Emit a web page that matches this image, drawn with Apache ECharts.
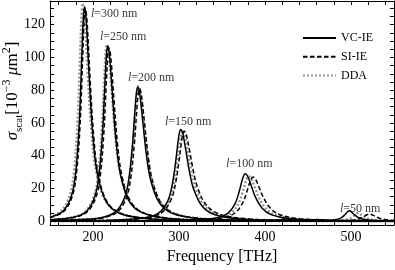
<!DOCTYPE html>
<html>
<head>
<meta charset="utf-8">
<script src="https://cdn.jsdelivr.net/npm/echarts@6/dist/echarts.min.js"></script>
<style>
html,body{margin:0;padding:0;background:#fff;}
#c{width:395px;height:270px;}
</style>
</head>
<body>
<div id="c"></div>
<script>
// ---- data (frequency THz, sigma_scat 10^-3 um^2) ----
const seriesNames = ['VC-IE', 'SI-IE', 'DDA'];
const rodLengths = [300, 250, 200, 150, 100, 50];

const vc300 = [[150,2.4],[165,6.1],[175,15.5],[180,30.4],[184,59.8],[187,101],[188.5,121.9],[190,131],[191.5,126.6],[193,114.8],[196,83.8],[200,51.1],[205,29.0],[215,12.2],[230,5.0],[260,1.7],[310,0.58],[390,0.25],[412,0.35],[425,1.5],[438,0.35],[550,0.1]];
const vc250 = [[150,0.85],[177,2.4],[192,5.8],[202,14.8],[207,28.3],[211,53.5],[214,85.6],[215.5,100.7],[217,107],[218.5,104.1],[220,96.3],[223,74.1],[227,47.9],[232,28.3],[242,12.3],[257,5.2],[287,1.7],[337,0.6],[421,0.22],[447,0.2],[461,1.0],[475,0.2],[550,0.08]];
const vc200 = [[150,0.38],[192,1.1],[212,2.4],[227,6.0],[237,14.7],[242,27.0],[246,47.3],[249,69.3],[250.5,78.4],[252,82],[253.5,80.2],[255,75.2],[258,60.3],[262,41.0],[267,25.2],[277,11.3],[292,4.8],[322,1.6],[372,0.57],[452,0.2],[550,0.09]];
const vc150 = [[150,0.15],[222,0.55],[262,2.2],[277,5.2],[287,12.4],[292,21.9],[296,35.8],[299,49.1],[300.5,54.1],[302,56],[303.5,55.0],[305,52.1],[308,43.2],[312,30.7],[317,19.6],[327,9.1],[342,3.9],[372,1.35],[422,0.47],[550,0.11]];
const vc100 = [[150,0.05],[277,0.23],[327,0.9],[347,2.4],[357,4.9],[365,10.4],[370,18.1],[374,26.1],[377,29],[380,27.3],[384,21.6],[389,14.5],[397,7.7],[407,4.0],[427,1.6],[467,0.5],[550,0.14]];
const vc50 = [[150,0.01],[400,0.03],[450,0.11],[470,0.32],[480,0.73],[488,1.87],[493,3.96],[496,5.75],[498,6.3],[500,5.88],[503,4.36],[510,1.77],[520,0.66],[535,0.25],[550,0.13]];

const si300 = [[150,2.3],[166,5.9],[176,15.4],[181,30.2],[185,59.3],[188,100],[189.5,121],[191,130],[192.5,125.6],[194,113.9],[197,83.2],[201,50.7],[206,28.8],[216,12.1],[231,5.0],[261,1.7],[311,0.58],[391,0.25],[413,0.35],[426,1.4],[439,0.35],[550,0.1]];
const si250 = [[150,0.8],[178.5,2.3],[193.5,5.8],[203.5,14.7],[208.5,28.0],[212.5,53.0],[215.5,84.7],[217,99.7],[218.5,106],[220,103.1],[221.5,95.3],[224.5,73.4],[228.5,47.4],[233.5,28.0],[243.5,12.2],[258.5,5.1],[288.5,1.7],[338.5,0.6],[422,0.22],[448,0.2],[463,0.9],[478,0.2],[550,0.08]];
const si200 = [[150,0.37],[194,1.09],[214,2.41],[229,5.9],[239,14.5],[244,26.7],[248,46.7],[251,68.5],[252.5,77.5],[254,81],[255.5,79.2],[257,74.3],[260,59.6],[264,40.5],[269,24.9],[279,11.2],[294,4.76],[324,1.62],[374,0.56],[454,0.2],[550,0.09]];
const si150 = [[150,0.16],[226,0.61],[266,2.38],[281,5.7],[291,13.4],[296,23.1],[300,36.7],[303,48.9],[304.5,53.3],[306,55],[307.5,54.2],[309,51.8],[312,44],[316,32.5],[321,21.5],[331,10.3],[346,4.55],[376,1.57],[426,0.54],[550,0.13]];
const si100 = [[150,0.05],[286,0.27],[336,1.04],[356,2.7],[366,5.4],[374,11.1],[379,18.1],[383,24.8],[386,27],[389,25.6],[393,20.9],[398,14.6],[406,8.0],[416,4.27],[436,1.71],[476,0.55],[550,0.17]];
const si50 = [[150,0.01],[420,0.03],[470,0.11],[490,0.27],[500,0.56],[508,1.21],[515,2.82],[518.5,3.9],[521,4.4],[523.5,4.1],[526,3.52],[533,1.8],[541,0.88],[550,0.47]];

const dd300 = [[150,2.7],[163,6.1],[173,15.8],[178,30.9],[182,60.7],[185,102.5],[186.5,123.8],[188,133],[189.5,129],[191,118.3],[194,88.8],[198,55.8],[203,32.3],[213,13.8],[228,5.75],[258,1.93],[308,0.66],[388,0.24],[550,0.07]];
const dd250 = [[150,0.89],[176,2.38],[191,5.88],[201,14.9],[206,28.6],[210,54],[213,86.4],[214.5,101.6],[216,108],[217.5,105.4],[219,98.2],[222,77.2],[226,51.2],[231,30.9],[241,13.6],[256,5.77],[286,1.95],[336,0.67],[420,0.23],[550,0.09]];
const dd200 = [[150,0.38],[192.5,1.11],[212.5,2.45],[227.5,6.0],[237.5,14.8],[242.5,27.1],[246.5,47.6],[249.5,69.7],[251,78.9],[252.5,82.5],[254,80.9],[255.5,76.3],[258.5,62.2],[262.5,43.3],[267.5,27.1],[277.5,12.4],[292.5,5.32],[322.5,1.82],[372.5,0.63],[452.5,0.23],[550,0.1]];
const dd150 = [[150,0.16],[224,0.58],[264,2.24],[279,5.39],[289,12.8],[294,22.3],[298,36.2],[301,48.9],[302.5,53.7],[304,55.5],[305.5,54.6],[307,52],[310,43.6],[314,31.6],[319,20.5],[329,9.69],[344,4.24],[374,1.46],[424,0.5],[550,0.12]];
const dd100 = [[150,0.05],[281,0.25],[331,0.96],[351,2.51],[361,5.06],[369,10.6],[374,17.8],[378,25],[381,27.5],[384,26],[388,20.9],[393,14.3],[401,7.72],[411,4.07],[431,1.62],[471,0.52],[550,0.15]];
const dd50 = [[150,0.01],[400,0.02],[460,0.1],[480,0.27],[490,0.63],[498,1.58],[503,3.18],[506,4.44],[508,4.8],[510,4.52],[513,3.45],[520,1.48],[530,0.56],[550,0.17]];

// peak annotation anchor points (frequency, sigma)
const labelFreq = [197.7, 208, 240.7, 283.7, 354.7, 487.2];
const labelSigma = [126.7, 112.6, 87.3, 60.7, 35, 7.4];

// axis ticks / labels
const xTickLabels = [200, 300, 400, 500];
const xTicks = [160,180,200,220,240,260,280,300,320,340,360,380,400,420,440,460,480,500,520,540];
const yTickLabels = [0, 20, 40, 60, 80, 100, 120];
const yTicks = [0,5,10,15,20,25,30,35,40,45,50,55,60,65,70,75,80,85,90,95,100,105,110,115,120,125,130];

// ---- chart ----
const FONT = 'Liberation Serif';
const curves = {
  'VC-IE': [vc300, vc250, vc200, vc150, vc100, vc50],
  'SI-IE': [si300, si250, si200, si150, si100, si50],
  'DDA':   [dd300, dd250, dd200, dd150, dd100, dd50]
};
const lineStyles = {
  'VC-IE': {color: '#000', width: 1.5, type: 'solid'},
  'SI-IE': {color: '#000', width: 1.5, type: [4.5, 2.5]},
  'DDA':   {color: '#8f9898', width: 2.4, type: [2, 2]}
};
const drawOrder = ['DDA', 'SI-IE', 'VC-IE'];
const z = {'DDA': 2, 'SI-IE': 3, 'VC-IE': 4};

const series = [];
drawOrder.forEach(name => {
  curves[name].forEach(arr => {
    series.push({
      type: 'line', name: name, data: arr, smooth: 0.35,
      showSymbol: false, symbol: 'none', z: z[name],
      lineStyle: lineStyles[name], itemStyle: {color: lineStyles[name].color},
      emphasis: {disabled: true}
    });
  });
});
series.push({
  type: 'scatter', name: 'peakLabels', symbolSize: 0, silent: true, z: 6,
  data: rodLengths.map((l, i) => ({value: [labelFreq[i], labelSigma[i]], name: String(l)})),
  label: {
    show: true, position: 'right', distance: 0,
    formatter: p => '{i|l}{n|=' + p.name + ' nm}',
    rich: {
      i: {fontFamily: FONT, fontStyle: 'italic', fontSize: 12, color: '#000'},
      n: {fontFamily: FONT, fontSize: 12, color: '#000'}
    }
  }
});

const axisLineStyle = {show: true, onZero: false, lineStyle: {color: '#000', width: 1}};
const xBase = {type: 'value', min: 150, max: 550, splitLine: {show: false}, axisLine: axisLineStyle,
  axisTick: {show: true, inside: true, length: 4, customValues: xTicks, lineStyle: {color: '#000'}}};
const yBase = {type: 'value', min: -2.4, max: 134.5, splitLine: {show: false}, axisLine: axisLineStyle,
  axisTick: {show: true, inside: true, length: 4, customValues: yTicks, lineStyle: {color: '#000'}}};

const option = {
  animation: false,
  backgroundColor: '#fff',
  grid: {left: 50, right: 1, top: 1, bottom: 42, containLabel: false},
  xAxis: [
    Object.assign({}, xBase, {position: 'bottom',
      axisLabel: {customValues: xTickLabels, fontFamily: FONT, fontSize: 14, color: '#000', margin: 5},
      name: 'Frequency [THz]', nameLocation: 'middle', nameGap: 22,
      nameTextStyle: {fontFamily: FONT, fontSize: 16, color: '#000'}}),
    Object.assign({}, xBase, {position: 'top', axisLabel: {show: false}})
  ],
  yAxis: [
    Object.assign({}, yBase, {position: 'left',
      axisLabel: {customValues: yTickLabels, fontFamily: FONT, fontSize: 14, color: '#000', margin: 5}}),
    Object.assign({}, yBase, {position: 'right', axisLabel: {show: false}})
  ],
  legend: {
    data: seriesNames, orient: 'vertical', left: 297, top: 26,
    itemWidth: 33, itemHeight: 14, itemGap: 4.7,
    itemStyle: {opacity: 0, borderWidth: 0},
    textStyle: {fontFamily: FONT, fontSize: 12, color: '#000', lineHeight: 14},
    selectedMode: false
  },
  graphic: [{
    type: 'text', x: 13, y: 91, rotation: Math.PI / 2, silent: true,
    style: {
      text: '{s|σ}{b|scat}{n|[10}{p|−3}{n| }{m|μ}{n|m}{p|2}{n|]}',
      align: 'center', verticalAlign: 'middle',
      rich: {
        s: {fontFamily: FONT, fontStyle: 'italic', fontSize: 17, lineHeight: 24, fill: '#000', verticalAlign: 'middle'},
        m: {fontFamily: FONT, fontStyle: 'italic', fontSize: 17, lineHeight: 24, fill: '#000', verticalAlign: 'middle'},
        n: {fontFamily: FONT, fontSize: 17, lineHeight: 24, fill: '#000', verticalAlign: 'middle'},
        b: {fontFamily: FONT, fontSize: 11, lineHeight: 11, fill: '#000', verticalAlign: 'bottom'},
        p: {fontFamily: FONT, fontSize: 12, lineHeight: 12, fill: '#000', verticalAlign: 'top'}
      }
    }
  }],
  series: series
};

const chart = echarts.init(document.getElementById('c'), null, {renderer: 'canvas'});
chart.setOption(option);
</script>
</body>
</html>
